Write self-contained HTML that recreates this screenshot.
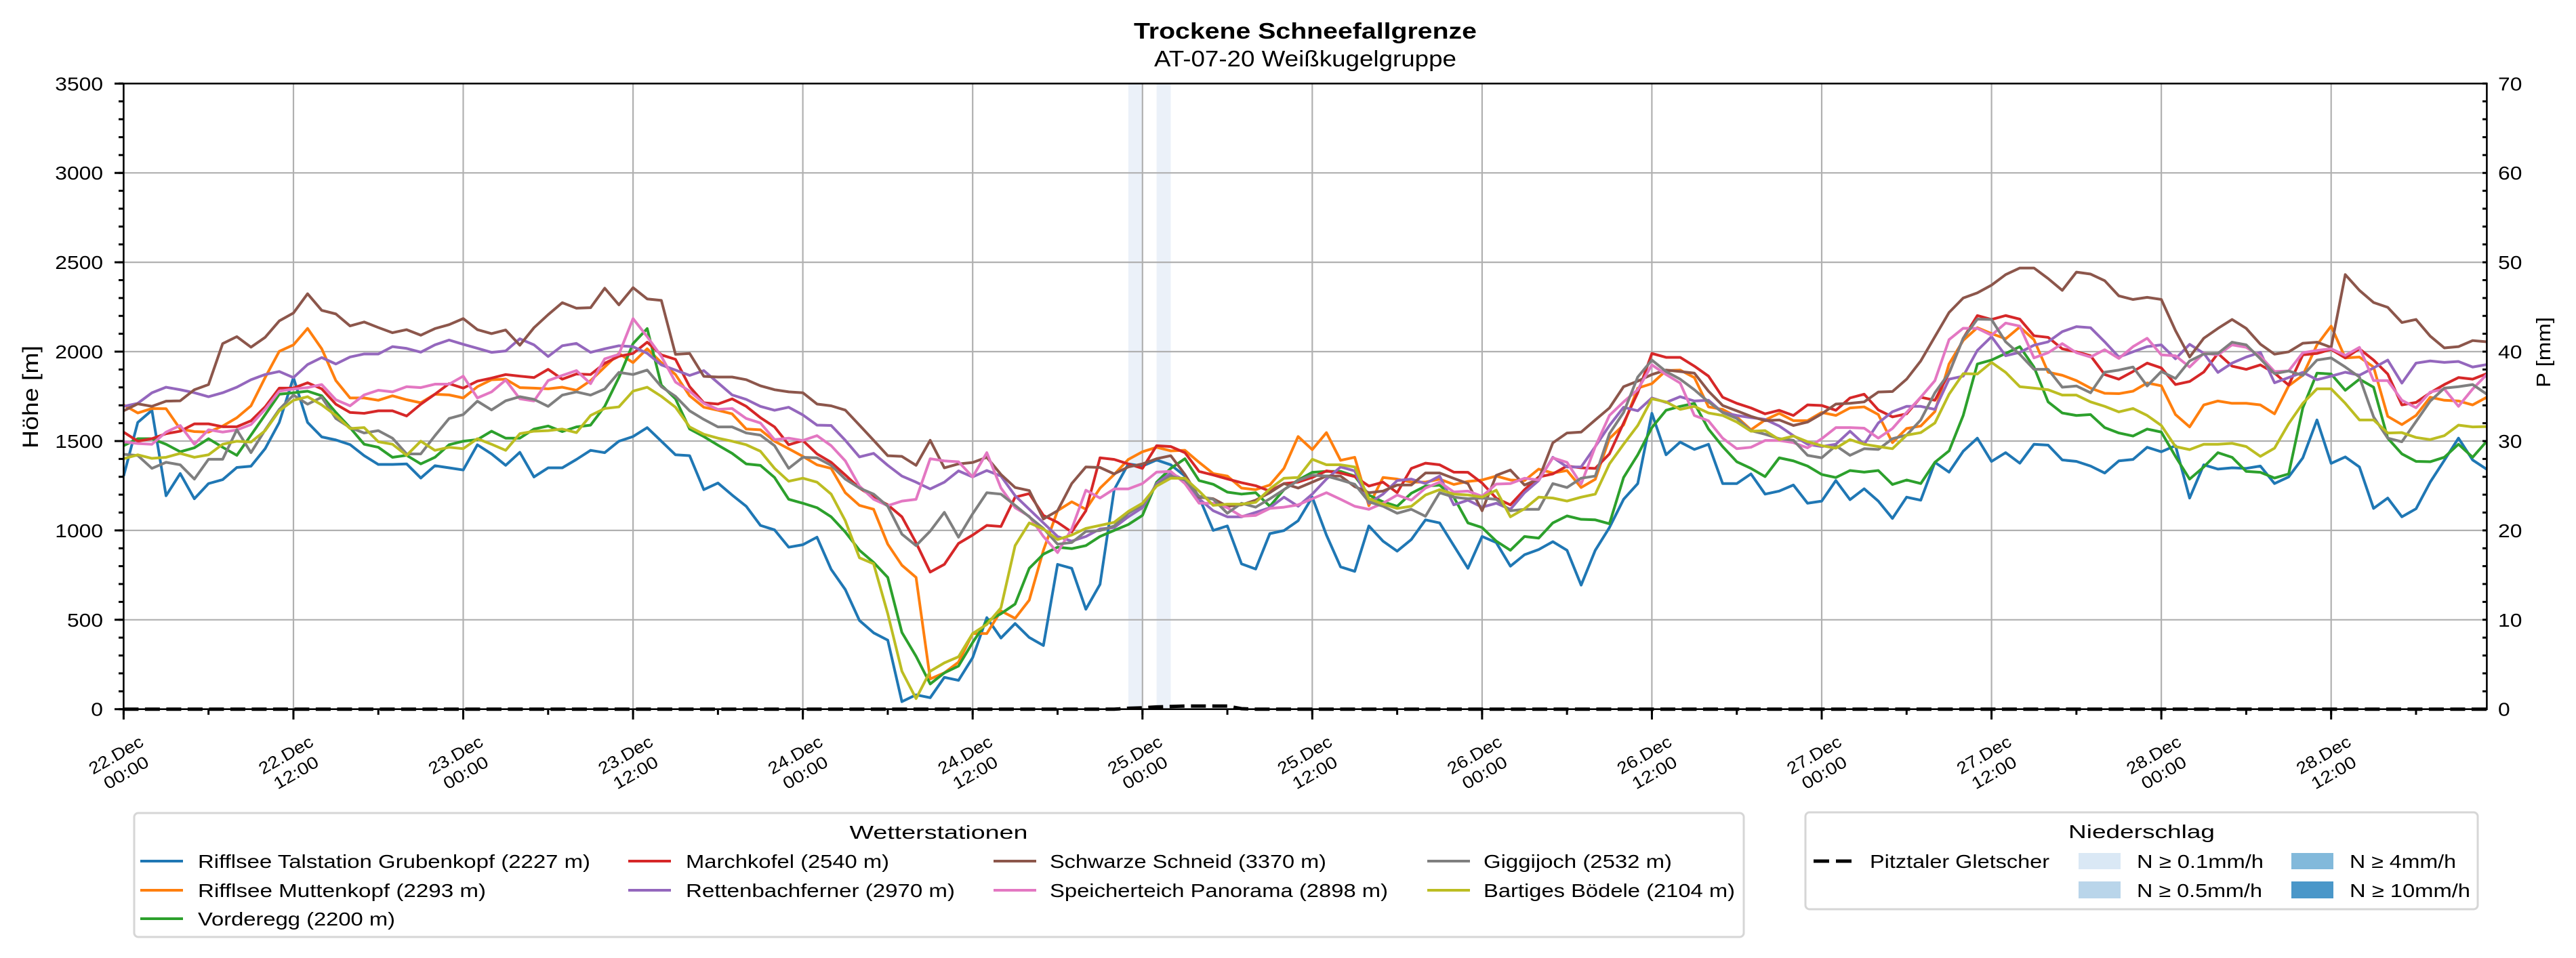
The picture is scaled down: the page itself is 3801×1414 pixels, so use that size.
<!DOCTYPE html>
<html><head><meta charset="utf-8"><style>
html,body{margin:0;padding:0;background:#fff;}
svg{display:block;}
text{font-family:"Liberation Sans",sans-serif;fill:#000;}
</style></head><body>
<svg xmlns="http://www.w3.org/2000/svg" width="3801" height="1414" viewBox="0 0 3801 1414">
<rect x="0" y="0" width="3801" height="1414" fill="#fff"/>
<!-- title -->
<text x="1926" y="57" font-size="33" font-weight="bold" text-anchor="middle" textLength="506" lengthAdjust="spacingAndGlyphs">Trockene Schneefallgrenze</text>
<text x="1926" y="98" font-size="33" text-anchor="middle" textLength="446" lengthAdjust="spacingAndGlyphs">AT-07-20 Weißkugelgruppe</text>
<!-- precip bands -->
<rect x="1664.9" y="123.3" width="20.9" height="923.4" fill="#ebf1f9"/>
<rect x="1706.6" y="123.3" width="20.9" height="923.4" fill="#ebf1f9"/>
<!-- grid -->
<g stroke="#b0b0b0" stroke-width="2.2">
<line x1="182.4" y1="914.8" x2="3669.4" y2="914.8"/>
<line x1="182.4" y1="782.9" x2="3669.4" y2="782.9"/>
<line x1="182.4" y1="651.0" x2="3669.4" y2="651.0"/>
<line x1="182.4" y1="519.0" x2="3669.4" y2="519.0"/>
<line x1="182.4" y1="387.1" x2="3669.4" y2="387.1"/>
<line x1="182.4" y1="255.2" x2="3669.4" y2="255.2"/>
<line x1="433.0" y1="123.3" x2="433.0" y2="1046.7"/>
<line x1="683.5" y1="123.3" x2="683.5" y2="1046.7"/>
<line x1="934.1" y1="123.3" x2="934.1" y2="1046.7"/>
<line x1="1184.6" y1="123.3" x2="1184.6" y2="1046.7"/>
<line x1="1435.2" y1="123.3" x2="1435.2" y2="1046.7"/>
<line x1="1685.8" y1="123.3" x2="1685.8" y2="1046.7"/>
<line x1="1936.3" y1="123.3" x2="1936.3" y2="1046.7"/>
<line x1="2186.9" y1="123.3" x2="2186.9" y2="1046.7"/>
<line x1="2437.4" y1="123.3" x2="2437.4" y2="1046.7"/>
<line x1="2688.0" y1="123.3" x2="2688.0" y2="1046.7"/>
<line x1="2938.6" y1="123.3" x2="2938.6" y2="1046.7"/>
<line x1="3189.1" y1="123.3" x2="3189.1" y2="1046.7"/>
<line x1="3439.7" y1="123.3" x2="3439.7" y2="1046.7"/>
</g>
<!-- series -->
<g transform="translate(182.4 1046.7) scale(20.88 -0.263829)" fill="none" stroke-width="4" stroke-linejoin="round">
<polyline vector-effect="non-scaling-stroke" stroke="#1f77b4" points="0,1304 1,1604 2,1672 3,1194 4,1318 5,1177 6,1262 7,1284 8,1352 9,1359 10,1457 11,1604 12,1855 13,1604 14,1523 15,1506 16,1480 17,1418 18,1369 19,1369 20,1372 21,1293 22,1362 23,1350 24,1338 25,1479 26,1428 27,1364 28,1437 29,1299 30,1350 31,1350 32,1397 33,1448 34,1435 35,1499 36,1525 37,1575 38,1499 39,1423 40,1418 41,1228 42,1265 43,1198 44,1135 45,1028 46,1003 47,906 48,920 49,962 50,782 51,669 52,496 53,427 54,386 55,42 56,80 57,64 58,178 59,161 60,288 61,512 62,398 63,479 64,401 65,356 66,810 67,788 68,559 69,698 70,1228 71,1372 72,1360 73,1394 74,1367 75,1304 76,1186 77,1000 78,1025 79,813 80,784 81,982 82,999 83,1054 84,1186 85,974 86,796 87,771 88,1025 89,940 90,884 91,949 92,1059 93,1042 94,915 95,788 96,966 97,932 98,800 99,864 100,893 101,937 102,889 103,694 104,889 105,1016 106,1174 107,1262 108,1655 109,1423 110,1494 111,1453 112,1482 113,1262 114,1262 115,1316 116,1203 117,1220 118,1254 119,1152 120,1164 121,1279 122,1172 123,1233 124,1164 125,1067 126,1186 127,1169 128,1381 129,1326 130,1443 131,1516 132,1386 133,1435 134,1376 135,1482 136,1477 137,1394 138,1386 139,1360 140,1321 141,1389 142,1397 143,1465 144,1440 145,1474 146,1181 147,1367 148,1343 149,1350 150,1347 151,1360 152,1262 153,1299 154,1406 155,1618 156,1375 157,1411 158,1355 159,1123 160,1181 161,1076 162,1121 163,1270 164,1392 165,1516 166,1394 167,1342"/>
<polyline vector-effect="non-scaling-stroke" stroke="#ff7f0e" points="0,1702 1,1657 2,1682 3,1681 4,1567 5,1553 6,1550 7,1584 8,1630 9,1697 10,1855 11,2002 12,2038 13,2130 14,2016 15,1838 16,1741 17,1741 18,1728 19,1753 20,1731 21,1714 22,1762 23,1758 24,1741 25,1804 26,1843 27,1846 28,1799 29,1796 30,1792 31,1801 32,1784 33,1838 34,1914 35,1990 36,1939 37,2016 38,1939 39,1872 40,1753 41,1689 42,1672 43,1652 44,1567 45,1563 46,1499 47,1457 48,1414 49,1367 50,1347 51,1211 52,1140 53,1118 54,923 55,805 56,737 57,169 58,203 59,263 60,423 61,423 62,550 63,508 64,610 65,889 66,1110 67,1160 68,1118 69,1236 70,1313 71,1397 72,1440 73,1465 74,1445 75,1448 76,1381 77,1318 78,1304 79,1237 80,1228 81,1254 82,1347 83,1525 84,1452 85,1547 86,1392 87,1409 88,1138 89,1296 90,1287 91,1270 92,1270 93,1287 94,1257 95,1274 96,1282 97,1304 98,1282 99,1279 100,1343 101,1321 102,1335 103,1240 104,1286 105,1514 106,1590 107,1796 108,1821 109,1894 110,1897 111,1855 112,1691 113,1677 114,1635 115,1563 116,1618 117,1655 118,1614 119,1614 120,1660 121,1643 122,1685 123,1691 124,1648 125,1491 126,1570 127,1584 128,1665 129,1931 130,2063 131,2134 132,2101 133,2072 134,2138 135,2067 136,1885 137,1868 138,1838 139,1796 140,1767 141,1765 142,1779 143,1825 144,1809 145,1648 146,1579 147,1702 148,1724 149,1711 150,1711 151,1702 152,1652 153,1809 154,1868 155,2038 156,2143 157,1965 158,1970 159,1914 160,1638 161,1592 162,1643 163,1745 164,1728 165,1724 166,1702 167,1745"/>
<polyline vector-effect="non-scaling-stroke" stroke="#2ca02c" points="0,1474 1,1513 2,1513 3,1482 4,1440 5,1462 6,1513 7,1465 8,1420 9,1533 10,1647 11,1762 12,1770 13,1779 14,1753 15,1660 16,1575 17,1482 18,1465 19,1409 20,1420 21,1372 22,1409 23,1479 24,1499 25,1508 26,1555 27,1516 28,1516 29,1567 30,1584 31,1553 32,1579 33,1589 34,1694 35,1855 36,2045 37,2129 38,1813 39,1736 40,1567 41,1525 42,1477 43,1431 44,1372 45,1364 46,1296 47,1174 48,1152 49,1127 50,1076 51,991 52,889 53,821 54,737 55,429 56,296 57,141 58,203 59,241 60,373 61,491 62,534 63,588 64,788 65,867 66,906 67,898 68,915 69,966 70,1000 71,1033 72,1084 73,1270 74,1347 75,1401 76,1279 77,1258 78,1214 79,1203 80,1211 81,1135 82,1228 83,1282 84,1325 85,1330 86,1330 87,1304 88,1198 89,1160 90,1135 91,1208 92,1248 93,1253 94,1186 95,1042 96,1016 97,940 98,889 99,966 100,957 101,1042 102,1081 103,1062 104,1059 105,1037 106,1296 107,1423 108,1575 109,1672 110,1694 111,1711 112,1567 113,1469 114,1384 115,1347 116,1301 117,1406 118,1389 119,1360 120,1313 121,1296 122,1335 123,1326 124,1335 125,1257 126,1282 127,1262 128,1381 129,1445 130,1643 131,1931 132,1953 133,1990 134,2028 135,1914 136,1719 137,1657 138,1643 139,1648 140,1575 141,1545 142,1528 143,1567 144,1550 145,1414 146,1287 147,1355 148,1435 149,1409 150,1330 151,1325 152,1293 153,1316 154,1686 155,1880 156,1875 157,1784 158,1846 159,1801 160,1516 161,1428 162,1386 163,1384 164,1409 165,1482 166,1409 167,1499"/>
<polyline vector-effect="non-scaling-stroke" stroke="#d62728" points="0,1550 1,1499 2,1513 3,1541 4,1555 5,1596 6,1596 7,1580 8,1580 9,1613 10,1691 11,1796 12,1796 13,1826 14,1792 15,1706 16,1660 17,1655 18,1669 19,1669 20,1640 21,1706 22,1762 23,1821 24,1796 25,1835 26,1852 27,1872 28,1863 29,1855 30,1901 31,1846 32,1875 33,1872 34,1935 35,1974 36,1990 37,2053 38,1982 39,1957 40,1804 41,1714 42,1707 43,1736 44,1694 45,1631 46,1579 47,1479 48,1503 49,1428 50,1381 51,1310 52,1237 53,1186 54,1143 55,1076 56,931 57,767 58,810 59,927 60,974 61,1028 62,1022 63,1186 64,1206 65,1084 66,1045 67,991 68,1110 69,1406 70,1397 71,1372 72,1347 73,1474 74,1469 75,1435 76,1330 77,1310 78,1288 79,1267 80,1250 81,1220 82,1262 83,1270 84,1296 85,1333 86,1321 87,1301 88,1248 89,1270 90,1211 91,1347 92,1376 93,1367 94,1326 95,1325 96,1265 97,1180 98,1143 99,1228 100,1299 101,1316 102,1360 103,1350 104,1347 105,1428 106,1601 107,1770 108,1990 109,1968 110,1968 111,1919 112,1863 113,1745 114,1711 115,1685 116,1652 117,1672 118,1643 119,1702 120,1699 121,1672 122,1741 123,1762 124,1674 125,1635 126,1652 127,1745 128,1728 129,1880 130,2075 131,2202 132,2180 133,2202 134,2182 135,2089 136,2080 137,2016 138,1999 139,1977 140,1872 141,1846 142,1889 143,1936 144,1909 145,1816 146,1833 147,1886 148,1990 149,1919 150,1901 151,1926 152,1880 153,1813 154,1982 155,1990 156,2013 157,1965 158,2016 159,1953 160,1875 161,1702 162,1716 163,1770 164,1816 165,1855 166,1846 167,1877"/>
<polyline vector-effect="non-scaling-stroke" stroke="#9467bd" points="0,1694 1,1711 2,1770 3,1801 4,1787 5,1770 6,1748 7,1770 8,1801 9,1843 10,1872 11,1889 12,1855 13,1928 14,1967 15,1931 16,1970 17,1987 18,1987 19,2028 20,2018 21,1997 22,2038 23,2065 24,2041 25,2019 26,1996 27,2004 28,2072 29,2038 30,1973 31,2033 32,2046 33,1996 34,2016 35,2033 36,2028 37,1991 38,1926 39,1897 40,1867 41,1894 42,1826 43,1758 44,1733 45,1694 46,1672 47,1689 48,1646 49,1589 50,1587 51,1504 52,1411 53,1431 54,1364 55,1304 56,1270 57,1232 58,1270 59,1333 60,1299 61,1335 62,1304 63,1194 64,1118 65,1042 66,966 67,940 68,966 69,1008 70,1016 71,1076 72,1127 73,1262 74,1321 75,1279 76,1177 77,1110 78,1076 79,1076 80,1101 81,1127 82,1186 83,1135 84,1203 85,1287 86,1355 87,1333 88,1152 89,1203 90,1279 91,1287 92,1262 93,1304 94,1143 95,1169 96,1130 97,1152 98,1118 99,1211 100,1279 101,1409 102,1355 103,1355 104,1469 105,1587 106,1689 107,1669 108,1741 109,1716 110,1748 111,1724 112,1728 113,1660 114,1643 115,1631 116,1621 117,1584 118,1530 119,1482 120,1469 121,1482 122,1555 123,1482 124,1601 125,1664 126,1694 127,1694 128,1677 129,1846 130,1863 131,2007 132,2084 133,1977 134,1996 135,2036 136,2055 137,2112 138,2140 139,2134 140,2055 141,1970 142,1999 143,2028 144,2038 145,1960 146,2041 147,1991 148,1884 149,1936 150,1970 151,1996 152,1826 153,1855 154,1884 155,1843 156,1863 157,1885 158,1868 159,1909 160,1953 161,1824 162,1936 163,1948 164,1940 165,1945 166,1914 167,1928"/>
<polyline vector-effect="non-scaling-stroke" stroke="#8c564b" points="0,1669 1,1708 2,1694 3,1723 4,1725 5,1787 6,1816 7,2045 8,2084 9,2025 10,2080 11,2172 12,2216 13,2324 14,2231 15,2211 16,2144 17,2166 18,2135 19,2106 20,2123 21,2092 22,2129 23,2151 24,2185 25,2123 26,2101 27,2121 28,2036 29,2134 30,2207 31,2274 32,2243 33,2246 34,2355 35,2262 36,2358 37,2295 38,2287 39,1985 40,1990 41,1862 42,1858 43,1858 44,1843 45,1809 46,1787 47,1775 48,1770 49,1707 50,1697 51,1673 52,1589 53,1504 54,1418 55,1414 56,1364 57,1504 58,1350 59,1372 60,1380 61,1409 62,1313 63,1240 64,1223 65,1064 66,1110 67,1262 68,1355 69,1352 70,1316 71,1355 72,1372 73,1401 74,1418 75,1313 76,1186 77,1177 78,1135 79,1143 80,1169 81,1211 82,1262 83,1237 84,1270 85,1304 86,1304 87,1245 88,1211 89,1220 90,1254 91,1254 92,1321 93,1321 94,1291 95,1262 96,1110 97,1308 98,1338 99,1254 100,1287 101,1490 102,1545 103,1550 104,1618 105,1685 106,1804 107,1835 108,1872 109,1897 110,1889 111,1880 112,1779 113,1699 114,1669 115,1638 116,1614 117,1618 118,1587 119,1606 120,1652 121,1707 122,1711 123,1719 124,1774 125,1777 126,1846 127,1948 128,2084 129,2219 130,2300 131,2329 132,2372 133,2431 134,2468 135,2468 136,2409 137,2343 138,2445 139,2434 140,2397 141,2312 142,2292 143,2304 144,2292 145,2118 146,1970 147,2075 148,2130 149,2180 150,2130 151,2042 152,1986 153,1999 154,2047 155,2053 156,2024 157,2431 158,2343 159,2275 160,2248 161,2163 162,2180 163,2087 164,2021 165,2028 166,2062 167,2055"/>
<polyline vector-effect="non-scaling-stroke" stroke="#e377c2" points="0,1496 1,1486 2,1482 3,1550 4,1587 5,1482 6,1563 7,1550 8,1562 9,1592 10,1677 11,1779 12,1791 13,1799 14,1816 15,1731 16,1697 17,1758 18,1784 19,1775 20,1804 21,1799 22,1818 23,1818 24,1863 25,1741 26,1775 27,1841 28,1736 29,1724 30,1838 31,1867 32,1894 33,1821 34,1960 35,1985 36,2185 37,2084 38,1974 39,1830 40,1779 41,1711 42,1677 43,1682 44,1626 45,1601 46,1508 47,1516 48,1503 49,1530 50,1474 51,1389 52,1248 53,1174 54,1138 55,1164 56,1174 57,1401 58,1389 59,1384 60,1299 61,1435 62,1237 63,1127 64,1079 65,966 66,876 67,1008 68,1225 69,1181 70,1232 71,1232 72,1262 73,1326 74,1330 75,1262 76,1152 77,1152 78,1127 79,1079 80,1084 81,1123 82,1130 83,1143 84,1177 85,1211 86,1174 87,1135 88,1118 89,1152 90,1198 91,1169 92,1237 93,1270 94,1215 95,1220 96,1191 97,1259 98,1262 99,1292 100,1282 101,1406 102,1381 103,1259 104,1469 105,1643 106,1719 107,1787 108,1926 109,1872 110,1824 111,1643 112,1613 113,1516 114,1457 115,1465 116,1503 117,1503 118,1491 119,1462 120,1513 121,1575 122,1575 123,1572 124,1516 125,1570 126,1660 127,1745 128,1838 129,2067 130,2131 131,2130 132,2092 133,2160 134,2143 135,1965 136,1994 137,2045 138,1994 139,1970 140,2011 141,1962 142,2028 143,2075 144,1982 145,1977 146,1914 147,1991 148,1982 149,2038 150,2024 151,1974 152,1889 153,1892 154,1994 155,2007 156,2016 157,1979 158,2024 159,1838 160,1838 161,1728 162,1686 163,1774 164,1791 165,1694 166,1791 167,1872"/>
<polyline vector-effect="non-scaling-stroke" stroke="#7f7f7f" points="0,1426 1,1419 2,1347 3,1381 4,1367 5,1287 6,1398 7,1398 8,1563 9,1435 10,1562 11,1677 12,1757 13,1706 14,1745 15,1626 16,1575 17,1545 18,1558 19,1516 20,1428 21,1428 22,1530 23,1626 24,1648 25,1723 26,1674 27,1725 28,1748 29,1733 30,1694 31,1757 32,1775 33,1757 34,1791 35,1884 36,1872 37,1897 38,1804 39,1750 40,1669 41,1621 42,1579 43,1579 44,1545 45,1533 46,1474 47,1347 48,1409 49,1406 50,1364 51,1287 52,1237 53,1203 54,1135 55,979 56,915 57,996 58,1101 59,962 60,1093 61,1211 62,1203 63,1140 64,1076 65,1011 66,923 67,932 68,994 69,999 70,1025 71,1096 72,1143 73,1254 74,1304 75,1282 76,1191 77,1174 78,1096 79,1152 80,1130 81,1177 82,1228 83,1279 84,1309 85,1304 86,1282 87,1258 88,1160 89,1135 90,1096 91,1118 92,1079 93,1211 94,1186 95,1177 96,1181 97,1174 98,1110 99,1118 100,1118 101,1262 102,1240 103,1292 104,1304 105,1541 106,1660 107,1858 108,1953 109,1889 110,1846 111,1787 112,1719 113,1660 114,1626 115,1558 116,1538 117,1513 118,1504 119,1420 120,1406 121,1474 122,1420 123,1457 124,1453 125,1513 126,1533 127,1618 128,1770 129,1880 130,2075 131,2182 132,2180 133,2055 134,1985 135,1901 136,1901 137,1801 138,1808 139,1770 140,1885 141,1897 142,1914 143,1808 144,1889 145,1850 146,1948 147,1987 148,1990 149,2053 150,2038 151,1960 152,1877 153,1892 154,1867 155,1953 156,1965 157,1914 158,1858 159,1635 160,1516 161,1496 162,1609 163,1723 164,1796 165,1804 166,1816 167,1762"/>
<polyline vector-effect="non-scaling-stroke" stroke="#bcbd22" points="0,1401 1,1423 2,1403 3,1409 4,1431 5,1409 6,1423 7,1482 8,1499 9,1494 10,1558 11,1669 12,1728 13,1748 14,1702 15,1643 16,1570 17,1575 18,1496 19,1482 20,1420 21,1499 22,1448 23,1465 24,1457 25,1513 26,1482 27,1448 28,1541 29,1555 30,1558 31,1567 32,1547 33,1643 34,1682 35,1691 36,1779 37,1801 38,1750 39,1689 40,1579 41,1538 42,1516 43,1499 44,1479 45,1443 46,1347 47,1275 48,1292 49,1270 50,1203 51,1054 52,847 53,813 54,534 55,212 56,59 57,212 58,259 59,293 60,423 61,474 62,567 63,915 64,1042 65,1008 66,949 67,974 68,1011 69,1028 70,1045 71,1106 72,1152 73,1248 74,1292 75,1292 76,1220 77,1140 78,1147 79,1147 80,1157 81,1232 82,1292 83,1296 84,1398 85,1367 86,1367 87,1355 88,1177 89,1147 90,1123 91,1135 92,1198 93,1228 94,1203 95,1198 96,1186 97,1225 98,1076 99,1121 100,1186 101,1181 102,1164 103,1186 104,1203 105,1372 106,1482 107,1587 108,1736 109,1719 110,1677 111,1694 112,1657 113,1643 114,1606 115,1555 116,1558 117,1508 118,1528 119,1496 120,1474 121,1460 122,1508 123,1482 124,1469 125,1457 126,1533 127,1547 128,1601 129,1762 130,1877 131,1875 132,1940 133,1884 134,1804 135,1796 136,1787 137,1757 138,1757 139,1719 140,1694 141,1663 142,1682 143,1643 144,1587 145,1469 146,1452 147,1482 148,1482 149,1487 150,1469 151,1414 152,1460 153,1597 154,1711 155,1792 156,1792 157,1711 158,1618 159,1618 160,1545 161,1547 162,1520 163,1508 164,1530 165,1589 166,1579 167,1581"/>
</g>
<!-- precipitation dashed line -->
<polyline fill="none" stroke="#000" stroke-width="5" stroke-dasharray="22 9.5" points="182.4,1046.7 1644.0,1046.7 1664.9,1045.4 1685.8,1044.7 1706.6,1043.4 1727.5,1042.7 1748.4,1042.1 1811.0,1042.1 1831.9,1046.0 1852.8,1046.7 3669.4,1046.7"/>
<!-- ticks -->
<g stroke="#000" fill="none">
<path d="M178.5 1048.2 V 120" stroke-width="7" stroke-dasharray="3 23.383"/>
<path d="M175.5 1048.2 V 120" stroke-width="13" stroke-dasharray="3 128.91"/>
<path d="M3666.5 1048.2 V 120" stroke-width="7" stroke-dasharray="3 23.383"/>
<path d="M180.9 1051 H 3672" stroke-width="8" stroke-dasharray="3 122.28"/>
<path d="M180.9 1054.5 H 3672" stroke-width="15" stroke-dasharray="3 247.56"/>
</g>
<!-- spines -->
<rect x="182.4" y="123.3" width="3487" height="923.4" fill="none" stroke="#000" stroke-width="2.6"/>
<!-- left tick labels -->
<g font-size="27.8" text-anchor="end">
<text x="152" y="1056.7" textLength="17.7" lengthAdjust="spacingAndGlyphs">0</text>
<text x="152" y="924.8" textLength="53" lengthAdjust="spacingAndGlyphs">500</text>
<text x="152" y="792.9" textLength="70.7" lengthAdjust="spacingAndGlyphs">1000</text>
<text x="152" y="661.0" textLength="70.7" lengthAdjust="spacingAndGlyphs">1500</text>
<text x="152" y="529.0" textLength="70.7" lengthAdjust="spacingAndGlyphs">2000</text>
<text x="152" y="397.1" textLength="70.7" lengthAdjust="spacingAndGlyphs">2500</text>
<text x="152" y="265.2" textLength="70.7" lengthAdjust="spacingAndGlyphs">3000</text>
<text x="152" y="133.3" textLength="70.7" lengthAdjust="spacingAndGlyphs">3500</text>
</g>
<!-- right tick labels -->
<g font-size="27.8" text-anchor="start">
<text x="3686" y="1056.7" textLength="17.7" lengthAdjust="spacingAndGlyphs">0</text>
<text x="3686" y="924.8" textLength="35.4" lengthAdjust="spacingAndGlyphs">10</text>
<text x="3686" y="792.9" textLength="35.4" lengthAdjust="spacingAndGlyphs">20</text>
<text x="3686" y="661.0" textLength="35.4" lengthAdjust="spacingAndGlyphs">30</text>
<text x="3686" y="529.0" textLength="35.4" lengthAdjust="spacingAndGlyphs">40</text>
<text x="3686" y="397.1" textLength="35.4" lengthAdjust="spacingAndGlyphs">50</text>
<text x="3686" y="265.2" textLength="35.4" lengthAdjust="spacingAndGlyphs">60</text>
<text x="3686" y="133.3" textLength="35.4" lengthAdjust="spacingAndGlyphs">70</text>
</g>
<!-- axis labels -->
<text transform="translate(56 586) rotate(-90)" font-size="32.4" text-anchor="middle" textLength="152" lengthAdjust="spacingAndGlyphs">Höhe [m]</text>
<text transform="translate(3763 520) rotate(-90)" font-size="28.5" text-anchor="middle" textLength="104" lengthAdjust="spacingAndGlyphs">P [mm]</text>
<!-- x tick labels -->
<g font-size="25" text-anchor="middle">
<text transform="translate(178.4 1127) rotate(-30)"><tspan x="0" y="-6" textLength="88" lengthAdjust="spacingAndGlyphs">22.Dec</tspan><tspan x="0" y="24" textLength="72" lengthAdjust="spacingAndGlyphs">00:00</tspan></text>
<text transform="translate(429.0 1127) rotate(-30)"><tspan x="0" y="-6" textLength="88" lengthAdjust="spacingAndGlyphs">22.Dec</tspan><tspan x="0" y="24" textLength="72" lengthAdjust="spacingAndGlyphs">12:00</tspan></text>
<text transform="translate(679.5 1127) rotate(-30)"><tspan x="0" y="-6" textLength="88" lengthAdjust="spacingAndGlyphs">23.Dec</tspan><tspan x="0" y="24" textLength="72" lengthAdjust="spacingAndGlyphs">00:00</tspan></text>
<text transform="translate(930.1 1127) rotate(-30)"><tspan x="0" y="-6" textLength="88" lengthAdjust="spacingAndGlyphs">23.Dec</tspan><tspan x="0" y="24" textLength="72" lengthAdjust="spacingAndGlyphs">12:00</tspan></text>
<text transform="translate(1180.6 1127) rotate(-30)"><tspan x="0" y="-6" textLength="88" lengthAdjust="spacingAndGlyphs">24.Dec</tspan><tspan x="0" y="24" textLength="72" lengthAdjust="spacingAndGlyphs">00:00</tspan></text>
<text transform="translate(1431.2 1127) rotate(-30)"><tspan x="0" y="-6" textLength="88" lengthAdjust="spacingAndGlyphs">24.Dec</tspan><tspan x="0" y="24" textLength="72" lengthAdjust="spacingAndGlyphs">12:00</tspan></text>
<text transform="translate(1681.8 1127) rotate(-30)"><tspan x="0" y="-6" textLength="88" lengthAdjust="spacingAndGlyphs">25.Dec</tspan><tspan x="0" y="24" textLength="72" lengthAdjust="spacingAndGlyphs">00:00</tspan></text>
<text transform="translate(1932.3 1127) rotate(-30)"><tspan x="0" y="-6" textLength="88" lengthAdjust="spacingAndGlyphs">25.Dec</tspan><tspan x="0" y="24" textLength="72" lengthAdjust="spacingAndGlyphs">12:00</tspan></text>
<text transform="translate(2182.9 1127) rotate(-30)"><tspan x="0" y="-6" textLength="88" lengthAdjust="spacingAndGlyphs">26.Dec</tspan><tspan x="0" y="24" textLength="72" lengthAdjust="spacingAndGlyphs">00:00</tspan></text>
<text transform="translate(2433.4 1127) rotate(-30)"><tspan x="0" y="-6" textLength="88" lengthAdjust="spacingAndGlyphs">26.Dec</tspan><tspan x="0" y="24" textLength="72" lengthAdjust="spacingAndGlyphs">12:00</tspan></text>
<text transform="translate(2684.0 1127) rotate(-30)"><tspan x="0" y="-6" textLength="88" lengthAdjust="spacingAndGlyphs">27.Dec</tspan><tspan x="0" y="24" textLength="72" lengthAdjust="spacingAndGlyphs">00:00</tspan></text>
<text transform="translate(2934.6 1127) rotate(-30)"><tspan x="0" y="-6" textLength="88" lengthAdjust="spacingAndGlyphs">27.Dec</tspan><tspan x="0" y="24" textLength="72" lengthAdjust="spacingAndGlyphs">12:00</tspan></text>
<text transform="translate(3185.1 1127) rotate(-30)"><tspan x="0" y="-6" textLength="88" lengthAdjust="spacingAndGlyphs">28.Dec</tspan><tspan x="0" y="24" textLength="72" lengthAdjust="spacingAndGlyphs">00:00</tspan></text>
<text transform="translate(3435.7 1127) rotate(-30)"><tspan x="0" y="-6" textLength="88" lengthAdjust="spacingAndGlyphs">28.Dec</tspan><tspan x="0" y="24" textLength="72" lengthAdjust="spacingAndGlyphs">12:00</tspan></text>
</g>
<!-- legend 1 -->
<rect x="198" y="1200" width="2375" height="183" rx="6" ry="6" fill="#fff" stroke="#d6d6d6" stroke-width="3"/>
<text x="1385" y="1238" font-size="27.8" text-anchor="middle" textLength="263" lengthAdjust="spacingAndGlyphs">Wetterstationen</text>
<g stroke-width="4">
<line x1="207" y1="1271" x2="270" y2="1271" stroke="#1f77b4"/>
<line x1="207" y1="1314" x2="270" y2="1314" stroke="#ff7f0e"/>
<line x1="207" y1="1356" x2="270" y2="1356" stroke="#2ca02c"/>
<line x1="927" y1="1271" x2="990" y2="1271" stroke="#d62728"/>
<line x1="927" y1="1314" x2="990" y2="1314" stroke="#9467bd"/>
<line x1="1466" y1="1271" x2="1529" y2="1271" stroke="#8c564b"/>
<line x1="1466" y1="1314" x2="1529" y2="1314" stroke="#e377c2"/>
<line x1="2106" y1="1271" x2="2169" y2="1271" stroke="#7f7f7f"/>
<line x1="2106" y1="1314" x2="2169" y2="1314" stroke="#bcbd22"/>
</g>
<g font-size="27.8">
<text x="292" y="1281" textLength="579" lengthAdjust="spacingAndGlyphs">Rifflsee Talstation Grubenkopf (2227 m)</text>
<text x="292" y="1324" textLength="425" lengthAdjust="spacingAndGlyphs">Rifflsee Muttenkopf (2293 m)</text>
<text x="292" y="1366" textLength="291" lengthAdjust="spacingAndGlyphs">Vorderegg (2200 m)</text>
<text x="1012" y="1281" textLength="300" lengthAdjust="spacingAndGlyphs">Marchkofel (2540 m)</text>
<text x="1012" y="1324" textLength="397" lengthAdjust="spacingAndGlyphs">Rettenbachferner (2970 m)</text>
<text x="1549" y="1281" textLength="408" lengthAdjust="spacingAndGlyphs">Schwarze Schneid (3370 m)</text>
<text x="1549" y="1324" textLength="499" lengthAdjust="spacingAndGlyphs">Speicherteich Panorama (2898 m)</text>
<text x="2189" y="1281" textLength="278" lengthAdjust="spacingAndGlyphs">Giggijoch (2532 m)</text>
<text x="2189" y="1324" textLength="371" lengthAdjust="spacingAndGlyphs">Bartiges Bödele (2104 m)</text>
</g>
<!-- legend 2 -->
<rect x="2664" y="1199" width="992" height="143" rx="6" ry="6" fill="#fff" stroke="#d6d6d6" stroke-width="3"/>
<text x="3160" y="1237" font-size="27.8" text-anchor="middle" textLength="216" lengthAdjust="spacingAndGlyphs">Niederschlag</text>
<rect x="2676" y="1268.5" width="23" height="5" fill="#000"/>
<rect x="2709" y="1268.5" width="23" height="5" fill="#000"/>
<rect x="3067" y="1259" width="62" height="24" fill="#dae8f5"/>
<rect x="3067" y="1301" width="62" height="25" fill="#b9d5ea"/>
<rect x="3381" y="1259" width="62" height="24" fill="#82b9db"/>
<rect x="3381" y="1301" width="62" height="25" fill="#4a97c9"/>
<g font-size="27.8">
<text x="2759" y="1281" textLength="265" lengthAdjust="spacingAndGlyphs">Pitztaler Gletscher</text>
<text x="3153" y="1281" textLength="187" lengthAdjust="spacingAndGlyphs">N ≥ 0.1mm/h</text>
<text x="3153" y="1324" textLength="185" lengthAdjust="spacingAndGlyphs">N ≥ 0.5mm/h</text>
<text x="3467" y="1281" textLength="157" lengthAdjust="spacingAndGlyphs">N ≥ 4mm/h</text>
<text x="3467" y="1324" textLength="178" lengthAdjust="spacingAndGlyphs">N ≥ 10mm/h</text>
</g>
</svg>
</body></html>
